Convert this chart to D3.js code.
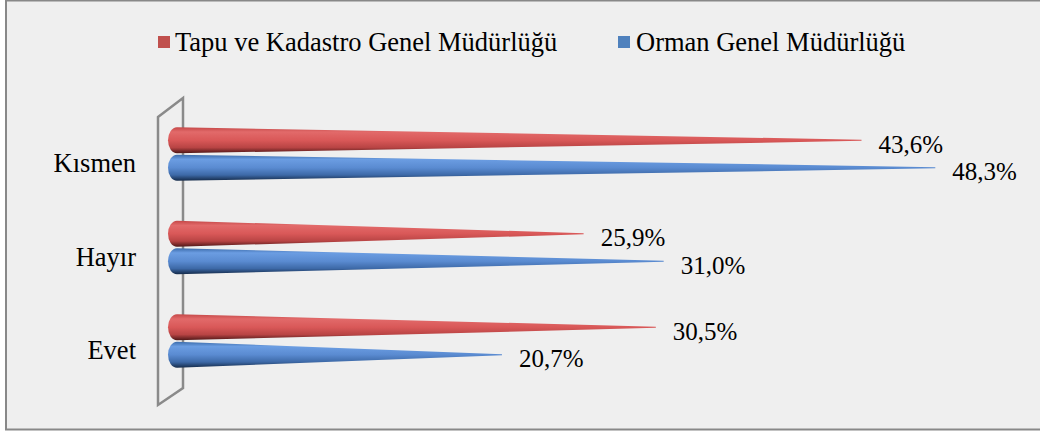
<!DOCTYPE html>
<html>
<head>
<meta charset="utf-8">
<script src="https://cdn.jsdelivr.net/npm/d3@7"></script>
<style>
  body { margin: 0; background: #ffffff; }
</style>
</head>
<body>
<script>
var categories = ["Kısmen", "Hayır", "Evet"];
var seriesNames = ["Tapu ve Kadastro Genel Müdürlüğü", "Orman Genel Müdürlüğü"];
var tapuValues = [43.6, 25.9, 30.5];
var ormanValues = [48.3, 31.0, 20.7];
var valueLabels = [["43,6%", "25,9%", "30,5%"], ["48,3%", "31,0%", "20,7%"]];

var width = 1040, height = 432;
var FONT = "'Liberation Serif'";

var svg = d3.select("body")
  .append("svg")
  .attr("width", width)
  .attr("height", height);

// chart area
svg.append("rect")
  .attr("x", 6)
  .attr("y", 0.5)
  .attr("width", 1040)
  .attr("height", 429)
  .attr("fill", "#efefef")
  .attr("stroke", "#888")
  .attr("stroke-width", 2);

var defs = svg.append("defs");
function grad(id, stops) {
  var g = defs.append("linearGradient")
    .attr("id", id)
    .attr("x1", 0).attr("y1", 0).attr("x2", 0).attr("y2", 1);
  stops.forEach(function(s) {
    g.append("stop").attr("offset", s[0]).attr("stop-color", s[1]);
  });
}
grad("g-red", [["0%", "#c54848"], ["18%", "#e26a6a"], ["50%", "#d95858"], ["78%", "#b84444"], ["100%", "#4e1717"]]);
grad("g-blue", [["0%", "#3c6cab"], ["18%", "#6b9de2"], ["50%", "#5a8bd1"], ["78%", "#3d69a7"], ["100%", "#152b4a"]]);

var x = d3.scaleLinear().domain([0, 50]).range([177, 962]);
var y = d3.scaleBand().domain(categories).range([107.25, 387.75]).padding(0);
var sub = d3.scaleBand().domain([0, 1]).range([-28, 28]).padding(0.04);

// 3D wall
var wall = [[158, 117], [183, 98], [183, 388], [158, 405]];
svg.append("path")
  .attr("d", d3.line()(wall) + "Z")
  .attr("fill", "none")
  .attr("stroke", "#8a8a8a")
  .attr("stroke-width", 2.5);

var series = [
  { values: tapuValues, fill: "url(#g-red)" },
  { values: ormanValues, fill: "url(#g-blue)" }
];

var half = 13, rx = 9;

series.forEach(function(s, si) {
  var g = svg.append("g");
  g.selectAll("path")
    .data(s.values)
    .enter()
    .append("path")
    .attr("fill", s.fill)
    .attr("d", function(d, i) {
      var cy = y(categories[i]) + y.bandwidth() / 2 + sub(si) + sub.bandwidth() / 2;
      var x0 = x(0), x1 = x(d);
      return "M" + x0 + "," + (cy - half) +
        " L" + x1 + "," + (cy - 0.6) +
        " L" + x1 + "," + (cy + 0.6) +
        " L" + x0 + "," + (cy + half) +
        " A" + rx + "," + half + " 0 0 1 " + x0 + "," + (cy - half) + "Z";
    });

  g.selectAll("text")
    .data(s.values)
    .enter()
    .append("text")
    .attr("x", function(d) { return x(d) + 17; })
    .attr("y", function(d, i) {
      return y(categories[i]) + y.bandwidth() / 2 + sub(si) + sub.bandwidth() / 2 + 12.5;
    })
    .style("font-family", FONT)
    .attr("font-size", 25)
    .attr("fill", "#000")
    .text(function(d, i) { return valueLabels[si][i]; });
});

// category labels
svg.selectAll(".cat")
  .data(categories)
  .enter()
  .append("text")
  .attr("class", "cat")
  .attr("x", 136)
  .attr("y", function(d) { return y(d) + y.bandwidth() / 2 + 18; })
  .attr("text-anchor", "end")
  .style("font-family", FONT)
  .attr("font-size", 26.5)
  .attr("fill", "#000")
  .text(function(d) { return d; });

// legend
var legend = [
  { name: seriesNames[0], color: "#c0504d", sx: 158, tx: 175 },
  { name: seriesNames[1], color: "#4f81bd", sx: 618, tx: 636 }
];
legend.forEach(function(l) {
  svg.append("rect")
    .attr("x", l.sx).attr("y", 36)
    .attr("width", 12).attr("height", 12)
    .attr("fill", l.color);
  svg.append("text")
    .attr("x", l.tx).attr("y", 51)
    .style("font-family", FONT)
    .attr("font-size", 26.5)
    .attr("fill", "#000")
    .text(l.name);
});
</script>
</body>
</html>
